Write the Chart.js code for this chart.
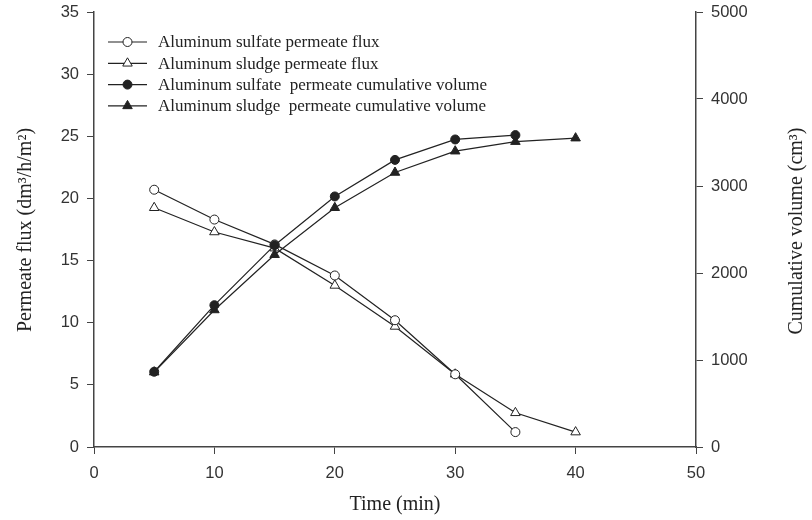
<!DOCTYPE html>
<html>
<head>
<meta charset="utf-8">
<script src="https://cdn.jsdelivr.net/npm/chart.js@4.4.0/dist/chart.umd.min.js"></script>
<style>
  html, body { margin: 0; padding: 0; background: #fff; }
  #wrap { width: 812px; height: 520px; }
</style>
</head>
<body>
<div id="wrap"><canvas id="grafico"></canvas></div>
<script>
// datos
const tiempo = [5, 10, 15, 20, 25, 30, 35, 40];
const fluxSulfato = [20.7, 18.3, 16.3, 13.8, 10.2, 5.85, 1.2];
const fluxLodo = [19.25, 17.3, 16.0, 13.0, 9.7, 5.85, 2.75, 1.2];
const volSulfato = [865, 1630, 2320, 2880, 3300, 3535, 3585];
const volLodo = [860, 1575, 2210, 2750, 3155, 3400, 3510, 3550];
const xTicks = [0, 10, 20, 30, 40, 50];

const etiquetas = [
    'Aluminum sulfate permeate flux',
    'Aluminum sludge permeate flux',
    'Aluminum sulfate  permeate cumulative volume',
    'Aluminum sludge  permeate cumulative volume'
];

const negro = '#222';
const ejes = '#444';
const fuenteTicks = { family: 'Liberation Sans', size: 16.5 };

function puntos(valores) {
    return valores.map((v, i) => ({ x: tiempo[i], y: v }));
}

function serie(label, valores, eje, estilo, relleno, orden) {
    return {
        label: label,
        data: puntos(valores),
        yAxisID: eje,
        borderColor: negro,
        borderWidth: 1.2,
        pointStyle: estilo,
        pointRadius: estilo === 'triangle' ? 5.5 : 4.5,
        pointBackgroundColor: relleno,
        pointBorderColor: negro,
        pointBorderWidth: 1,
        order: orden
    };
}

// ancho fijo del eje y sin relleno extra arriba/abajo
function fijarEjeY(ancho) {
    return s => {
        s.width = ancho;
        s.paddingTop = 0;
        s.paddingBottom = 0;
    };
}

// títulos de ejes y leyenda dibujados a mano
const extras = {
    id: 'extras',
    afterDraw(chart) {
        const ctx = chart.ctx;
        const area = chart.chartArea;
        ctx.save();
        ctx.fillStyle = negro;
        ctx.font = '20px "Liberation Serif"';
        ctx.textAlign = 'center';
        ctx.textBaseline = 'middle';
        ctx.fillText('Time (min)', (area.left + area.right) / 2, 505);

        ctx.save();
        ctx.translate(26, 230);
        ctx.rotate(-Math.PI / 2);
        ctx.fillText('Permeate flux (dm\u00B3/h/m\u00B2)', 0, 0);
        ctx.restore();

        ctx.save();
        ctx.translate(797, 231);
        ctx.rotate(-Math.PI / 2);
        ctx.fillText('Cumulative volume (cm\u00B3)', 0, 0);
        ctx.restore();

        // leyenda
        ctx.font = '17px "Liberation Serif"';
        ctx.textAlign = 'left';
        chart.data.datasets.forEach((ds, i) => {
            const y = 42 + i * 21.3;
            const cx = 127.5;
            ctx.strokeStyle = negro;
            ctx.lineWidth = 1.2;
            ctx.beginPath();
            ctx.moveTo(108, y);
            ctx.lineTo(147, y);
            ctx.stroke();
            ctx.fillStyle = ds.pointBackgroundColor;
            ctx.lineWidth = 1;
            ctx.beginPath();
            if (ds.pointStyle === 'circle') {
                ctx.arc(cx, y, ds.pointRadius, 0, Math.PI * 2);
            } else {
                const r = ds.pointRadius;
                ctx.moveTo(cx, y - r);
                ctx.lineTo(cx + r * 0.866, y + r * 0.5);
                ctx.lineTo(cx - r * 0.866, y + r * 0.5);
                ctx.closePath();
            }
            ctx.fill();
            ctx.stroke();
            ctx.fillStyle = negro;
            ctx.fillText(ds.label, 158, y + 1);
        });
        ctx.restore();
    }
};

const ctx = document.getElementById('grafico').getContext('2d');
new Chart(ctx, {
    type: 'line',
    data: {
        datasets: [
            serie(etiquetas[0], fluxSulfato, 'y', 'circle', '#fff', 1),
            serie(etiquetas[1], fluxLodo, 'y', 'triangle', '#fff', 1),
            serie(etiquetas[2], volSulfato, 'y2', 'circle', negro, 0),
            serie(etiquetas[3], volLodo, 'y2', 'triangle', negro, 0)
        ]
    },
    options: {
        responsive: true,
        maintainAspectRatio: false,
        animation: false,
        layout: { padding: { top: 12, left: 0, right: 0, bottom: 0 } },
        plugins: {
            legend: { display: false },
            tooltip: { enabled: false }
        },
        scales: {
            x: {
                type: 'linear',
                min: 0,
                max: 50,
                afterBuildTicks: s => { s.ticks = xTicks.map(v => ({ value: v })); },
                afterFit: s => { s.height = 73; s.paddingLeft = 0; s.paddingRight = 0; },
                ticks: { color: '#333', font: fuenteTicks, padding: 10 },
                grid: { drawOnChartArea: false, tickLength: 7, color: ejes },
                border: { color: ejes, width: 1.5 }
            },
            y: {
                position: 'left',
                min: 0,
                max: 35,
                ticks: { stepSize: 5, color: '#333', font: fuenteTicks, padding: 8 },
                afterFit: fijarEjeY(94),
                grid: { drawOnChartArea: false, tickLength: 7, color: ejes },
                border: { color: ejes, width: 1.5 }
            },
            y2: {
                position: 'right',
                min: 0,
                max: 5000,
                ticks: { stepSize: 1000, color: '#333', font: fuenteTicks, padding: 8, callback: v => String(v) },
                afterFit: fijarEjeY(116),
                grid: { drawOnChartArea: false, tickLength: 7, color: ejes },
                border: { color: ejes, width: 1.5 }
            }
        }
    },
    plugins: [extras]
});
</script>
</body>
</html>
